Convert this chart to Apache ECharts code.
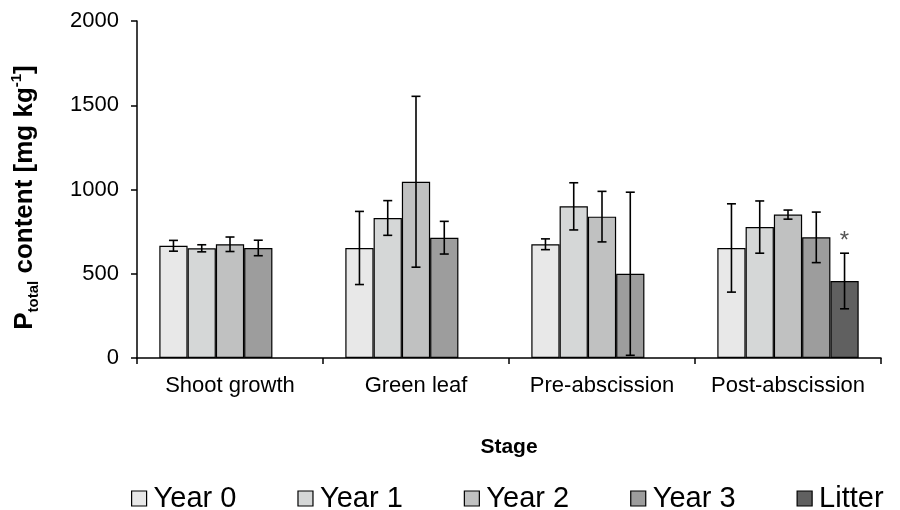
<!DOCTYPE html>
<html>
<head>
<meta charset="utf-8">
<script src="https://cdn.jsdelivr.net/npm/echarts@6/dist/echarts.min.js"></script>
<style>html,body{margin:0;padding:0;background:#fff;}#c{width:900px;height:510px;}</style>
</head>
<body>
<div id="c"></div>
<script>
var categories = ['Shoot growth', 'Green leaf', 'Pre-abscission', 'Post-abscission'];
var seriesNames = ['Year 0', 'Year 1', 'Year 2', 'Year 3', 'Litter'];
var year0 = [666, 653, 675, 653];
var year1 = [651, 831, 900, 777];
var year2 = [675, 1046, 839, 851];
var year3 = [653, 714, 500, 716];
var litter = [null, null, null, 457];
var year0Err = [32, 217, 32, 262];
var year1Err = [21, 103, 140, 155];
var year2Err = [43, 507, 150, 27];
var year3Err = [46, 97, 484, 150];
var litterErr = [null, null, null, 165];
var litterSig = ['', '', '', '*'];
var yTicks = [0, 500, 1000, 1500, 2000];

var values = [year0, year1, year2, year3, litter];
var errors = [year0Err, year1Err, year2Err, year3Err, litterErr];
var sigs = [['', '', '', ''], ['', '', '', ''], ['', '', '', ''], ['', '', '', ''], litterSig];
var colors = ['#e8e8e8', '#d5d7d7', '#c0c1c1', '#9d9d9d', '#606060'];
var FONT = '"Liberation Sans", Arial, sans-serif';
var GAP = 0.24;
var N = seriesNames.length;

var series = [];
seriesNames.forEach(function (name, i) {
  series.push({
    name: name,
    type: 'bar',
    barGap: '0%',
    barCategoryGap: (GAP * 100) + '%',
    data: values[i].map(function (v) { return v == null ? '-' : v; }),
    itemStyle: { color: colors[i], borderColor: '#000', borderWidth: 1.2 },
    z: 2
  });
});
seriesNames.forEach(function (name, i) {
  var d = [];
  values[i].forEach(function (v, c) {
    if (v != null) d.push([c, v, errors[i][c], sigs[i][c]]);
  });
  series.push({
    type: 'custom',
    name: name + ' err',
    z: 5,
    silent: true,
    data: d,
    encode: { x: 0, y: 1 },
    renderItem: (function (si, dd) {
      return function (params, api) {
        var c = api.value(0), v = api.value(1), e = api.value(2);
        var sig = dd[params.dataIndex][3];
        var band = api.size([1, 0])[0];
        var bw = band * (1 - GAP) / N;
        var center = api.coord([c, v]);
        var x = center[0] + (si - (N - 1) / 2) * bw;
        var hi = api.coord([c, v + e])[1];
        var lo = api.coord([c, v - e])[1];
        var cap = 4.5;
        var st = { stroke: '#000', lineWidth: 1.6 };
        var children = [
          { type: 'line', shape: { x1: x, y1: hi, x2: x, y2: lo }, style: st },
          { type: 'line', shape: { x1: x - cap, y1: hi, x2: x + cap, y2: hi }, style: st },
          { type: 'line', shape: { x1: x - cap, y1: lo, x2: x + cap, y2: lo }, style: st }
        ];
        if (sig) {
          children.push({
            type: 'text',
            style: { text: sig, x: x, y: hi - 12, align: 'center', verticalAlign: 'middle',
              fill: '#555', font: '24px ' + FONT }
          });
        }
        return { type: 'group', children: children };
      };
    })(i, d)
  });
});

var chart = echarts.init(document.getElementById('c'));
chart.setOption({
  animation: false,
  backgroundColor: '#fff',
  textStyle: { fontFamily: FONT },
  grid: { left: 137, right: 19, top: 21, bottom: 152, containLabel: false, outerBoundsMode: 'none' },
  legend: {
    data: seriesNames,
    left: 131,
    top: 484,
    padding: 0,
    icon: 'rect',
    itemWidth: 15,
    itemHeight: 15,
    itemGap: 61,
    itemStyle: { borderColor: '#000', borderWidth: 1.2 },
    textStyle: { fontSize: 29, color: '#000', fontFamily: FONT, padding: [0, 0, 0, 2] }
  },
  xAxis: {
    type: 'category',
    data: categories,
    name: 'Stage',
    nameLocation: 'middle',
    nameGap: 79,
    nameTextStyle: { fontSize: 21, fontWeight: 'bold', color: '#000', fontFamily: FONT },
    axisLine: { lineStyle: { color: '#000', width: 1.5 } },
    axisTick: { show: true, length: 6, lineStyle: { color: '#000', width: 1.5 } },
    axisLabel: { fontSize: 22, color: '#000', margin: 17, interval: 0, fontFamily: FONT }
  },
  yAxis: {
    type: 'value',
    min: yTicks[0],
    max: yTicks[yTicks.length - 1],
    interval: yTicks[1] - yTicks[0],
    name: '{b|P}{sub|total}{b| content [mg kg}{sup|-1}{b|]}',
    nameLocation: 'middle',
    nameRotate: 90,
    nameGap: 96,
    nameTextStyle: {
      color: '#000',
      fontFamily: FONT,
      padding: [0, 16, 0, 0],
      rich: {
        b: { fontSize: 26, fontWeight: 'bold', lineHeight: 32, color: '#000', fontFamily: FONT },
        sub: { fontSize: 15, fontWeight: 'bold', lineHeight: 15, verticalAlign: 'bottom', color: '#000', fontFamily: FONT },
        sup: { fontSize: 15, fontWeight: 'bold', lineHeight: 15, verticalAlign: 'top', color: '#000', fontFamily: FONT }
      }
    },
    splitLine: { show: false },
    axisLine: { show: true, lineStyle: { color: '#000', width: 1.5 } },
    axisTick: { show: true, length: 6, lineStyle: { color: '#000', width: 1.5 } },
    axisLabel: { fontSize: 22, color: '#000', margin: 18, fontFamily: FONT, formatter: function (v) { return String(v); } }
  },
  series: series
});
</script>
</body>
</html>
